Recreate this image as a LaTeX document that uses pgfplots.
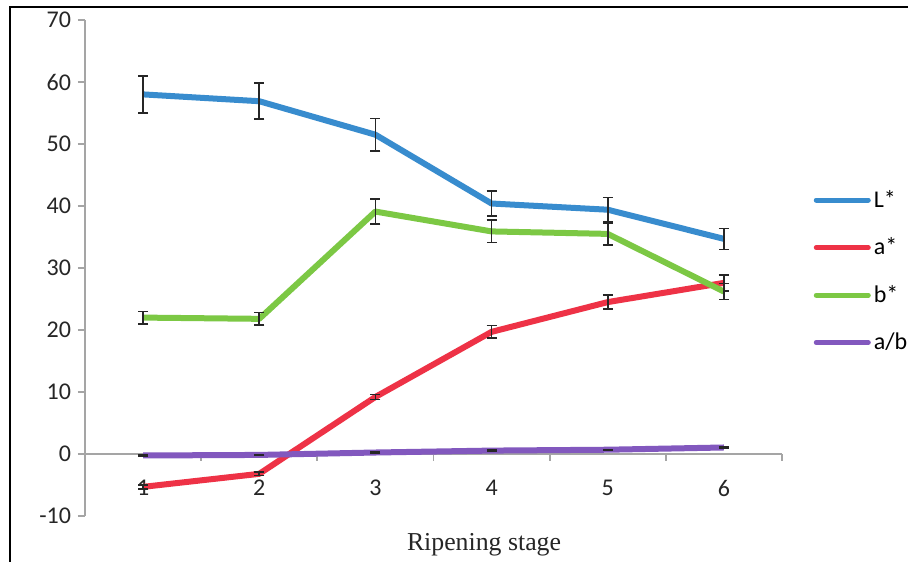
\documentclass[border=0pt]{standalone}
\usepackage{pgfplots}
\pgfplotsset{compat=1.18}
\usepackage{pgfplotstable}
\usepackage{fontspec}
\setmainfont{Carlito}
\newfontfamily\tnr{Liberation Serif}
\definecolor{cL}{RGB}{56,140,206}
\definecolor{cA}{RGB}{238,50,70}
\definecolor{cB}{RGB}{124,200,68}
\definecolor{cR}{RGB}{130,88,190}
\definecolor{axgray}{RGB}{165,165,165}

\pgfplotstableread{
x y e
1 58.0 3.0
2 56.9 2.9
3 51.5 2.6
4 40.4 2.0
5 39.4 2.0
6 34.7 1.7
}\tabL
\pgfplotstableread{
x y e
1 -5.3 0.3
2 -3.2 0.3
3 9.2 0.4
4 19.7 1.0
5 24.5 1.1
6 27.6 1.3
}\tabA
\pgfplotstableread{
x y e
1 22.0 1.0
2 21.8 1.0
3 39.1 2.0
4 35.9 1.8
5 35.5 1.8
6 26.2 1.3
}\tabB
\pgfplotstableread{
x y e
1 -0.24 0.05
2 -0.15 0.05
3 0.24 0.05
4 0.55 0.05
5 0.69 0.05
6 1.05 0.05
}\tabR

\begin{document}
\begin{tikzpicture}
\useasboundingbox (0,0) rectangle (454pt,280.5pt);
\clip (0,0) rectangle (454pt,280.5pt);
\fill[white] (0,0) rectangle (454pt,280.5pt);
\draw[black, line width=1.3pt] (5pt,-10pt) -- (5pt,277pt) -- (470pt,277pt);
\begin{axis}[
  at={(42.5pt,22.5pt)}, anchor=south west,
  scale only axis, width=348.5pt, height=248pt,
  xmin=0.5, xmax=6.5, ymin=-10, ymax=70,
  axis y line*=left, axis x line*=middle,
  hide obscured x ticks=false, hide obscured y ticks=false,
  axis line style={axgray, line width=0.9pt, -},
  every tick/.style={axgray, line width=0.9pt},
  tick align=outside, major tick length=3.5pt,
  ytick={-10,0,...,70},
  xtick={1.5,2.5,...,6.5}, xticklabels={},
  extra x ticks={1,2,3,4,5,6},
  extra x tick labels={1,2,3,4,5,6},
  extra x tick style={major tick length=0pt, tick label style={yshift=-9.5pt}},
  tick label style={font=\fontsize{12}{14}\selectfont, text=black!85},
  /pgf/number format/assume math mode=true,
  xlabel={\tnr Ripening stage},
  xlabel style={at={(axis description cs:0.5725,-0.0585)}, anchor=center, font=\fontsize{12.9}{15}\selectfont, text=black!85},
  legend cell align=left,
  legend style={at={(1.045,0.664)}, anchor=north west, draw=none, fill=none,
    font=\fontsize{12}{14}\selectfont, row sep=10.75pt, inner sep=0pt,
    nodes={inner sep=1.5pt}},
  legend image code/.code={\draw[#1, line width=2.5pt, line cap=round] (0pt,0pt) -- (26pt,0pt);},
  every axis plot/.append style={line width=3pt, no markers, line join=round},
  error bars/error bar style={black!85, line width=0.8pt, solid},
  error bars/error mark options={black!85, line width=0.8pt, mark size=2.5pt, rotate=90},
]
\addplot[cL, error bars/.cd, y dir=both, y explicit] table[x=x, y=y, y error=e] {\tabL};
\addlegendentry{L*}
\addplot[cA, error bars/.cd, y dir=both, y explicit] table[x=x, y=y, y error=e] {\tabA};
\addlegendentry{a*}
\addplot[cB, error bars/.cd, y dir=both, y explicit] table[x=x, y=y, y error=e] {\tabB};
\addlegendentry{b*}
\addplot[cR, error bars/.cd, y dir=both, y explicit] table[x=x, y=y, y error=e] {\tabR};
\addlegendentry{a/b}
\end{axis}
\end{tikzpicture}
\end{document}
